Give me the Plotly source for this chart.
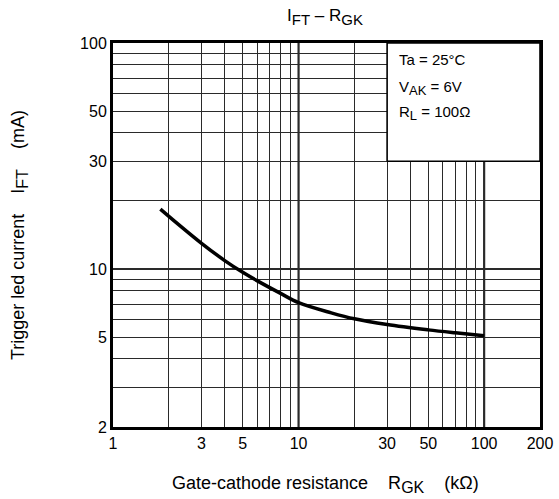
import numpy as np
import plotly.graph_objects as go

# --- data ---
rgk_kohm = [1.8, 2, 3, 4, 5, 6, 8, 10, 15, 20, 30, 50, 70, 100]
ift_ma = [18.4, 17.1, 13.0, 10.9, 9.67, 8.86, 7.8, 7.1, 6.4, 6.02, 5.68, 5.38, 5.22, 5.07]

x_tick_vals = [1, 3, 5, 10, 30, 50, 100, 200]
x_tick_text = ["1", "3", "5", "10", "30", "50", "100", "200"]
x_minor_grid = [2, 4, 6, 7, 8, 9, 20, 40, 60, 70, 80, 90]
x_decade_grid = [10, 100]

y_tick_vals = [2, 5, 10, 30, 50, 100]
y_tick_text = ["2", "5", "10", "30", "50", "100"]
y_minor_grid = [3, 4, 6, 7, 8, 9, 20, 40, 60, 70, 80, 90]
y_decade_grid = [10]

x_range = [1, 200]
y_range = [2, 100]

cond_box_x = [30, 200]
cond_box_y = [30, 100]
cond_lines = ["Ta = 25°C",
              "V<sub><span style='font-size:13px'>AK</span></sub> = 6V",
              "R<sub><span style='font-size:13px'>L</span></sub> = 100Ω"]

FONT = "Arial, Liberation Sans, Helvetica, sans-serif"
GRID = "#2a2a2a"

fig = go.Figure()

# thicker decade grid lines (drawn under everything else)
for v in x_decade_grid:
    fig.add_trace(go.Scatter(x=[v, v], y=y_range, mode="lines",
                             line=dict(color=GRID, width=2.2), hoverinfo="skip", showlegend=False))
for v in y_decade_grid:
    fig.add_trace(go.Scatter(x=x_range, y=[v, v], mode="lines",
                             line=dict(color=GRID, width=2.2), hoverinfo="skip", showlegend=False))

# conditions box (white, hides grid)
bx = [cond_box_x[0], cond_box_x[1], cond_box_x[1], cond_box_x[0], cond_box_x[0]]
by = [cond_box_y[0], cond_box_y[0], cond_box_y[1], cond_box_y[1], cond_box_y[0]]
fig.add_trace(go.Scatter(x=bx, y=by, mode="lines", fill="toself",
                         fillcolor="white", line=dict(color="black", width=1.6),
                         hoverinfo="skip", showlegend=False))

# curve
fig.add_trace(go.Scatter(x=rgk_kohm, y=ift_ma, mode="lines",
                         line=dict(color="black", width=3.5, shape="spline", smoothing=1.0),
                         showlegend=False))

axis_common = dict(type="log", showline=True, mirror=True, linecolor="black",
                   linewidth=3, ticks="", gridcolor=GRID, gridwidth=1.3, automargin=False,
                   tickfont=dict(family=FONT, size=16, color="black"), zeroline=False)

fig.update_xaxes(range=[np.log10(x_range[0]), np.log10(x_range[1])],
                 tickmode="array", tickvals=x_tick_vals, ticktext=x_tick_text,
                 minor=dict(tickmode="array", tickvals=x_minor_grid, showgrid=True,
                            gridcolor=GRID, gridwidth=1.3, ticks=""),
                 ticklabelstandoff=0, **axis_common)
fig.update_yaxes(range=[np.log10(y_range[0]), np.log10(y_range[1])],
                 tickmode="array", tickvals=y_tick_vals, ticktext=y_tick_text,
                 minor=dict(tickmode="array", tickvals=y_minor_grid, showgrid=True,
                            gridcolor=GRID, gridwidth=1.3, ticks=""),
                 ticklabelstandoff=0, **axis_common)

ann = []
# title
ann.append(dict(text="I<sub><span style='font-size:15px'>FT</span></sub> – R<sub><span style='font-size:15px'>GK</span></sub>",
                xref="paper", yref="paper",
                x=0.497, y=1.068, showarrow=False, xanchor="center", yanchor="middle",
                font=dict(family=FONT, size=17, color="black")))
# x axis title
ann.append(dict(text="Gate-cathode resistance    R<sub><span style='font-size:16px'>GK</span></sub>    (kΩ)",
                xref="paper", yref="paper",
                x=0.497, y=-0.151, showarrow=False, xanchor="center", yanchor="middle",
                font=dict(family=FONT, size=18, color="black")))
# y axis title
ann.append(dict(text="Trigger led current    I<sub><span style='font-size:16px'>FT</span></sub>    (mA)",
                xref="paper", yref="paper",
                x=-0.220, y=0.5, showarrow=False, xanchor="center", yanchor="middle",
                textangle=-90, font=dict(family=FONT, size=18, color="black")))
# condition texts
for i, t in enumerate(cond_lines):
    ann.append(dict(text=t, xref="paper", yref="paper", x=0.665, y=[0.956, 0.883, 0.818][i],
                    showarrow=False, xanchor="left", yanchor="middle",
                    font=dict(family=FONT, size=15, color="black")))

fig.update_layout(width=559, height=499, margin=dict(l=113, r=19, t=43, b=72),
                  paper_bgcolor="white", plot_bgcolor="white", annotations=ann,
                  showlegend=False)

fig.write_html("out.html")
